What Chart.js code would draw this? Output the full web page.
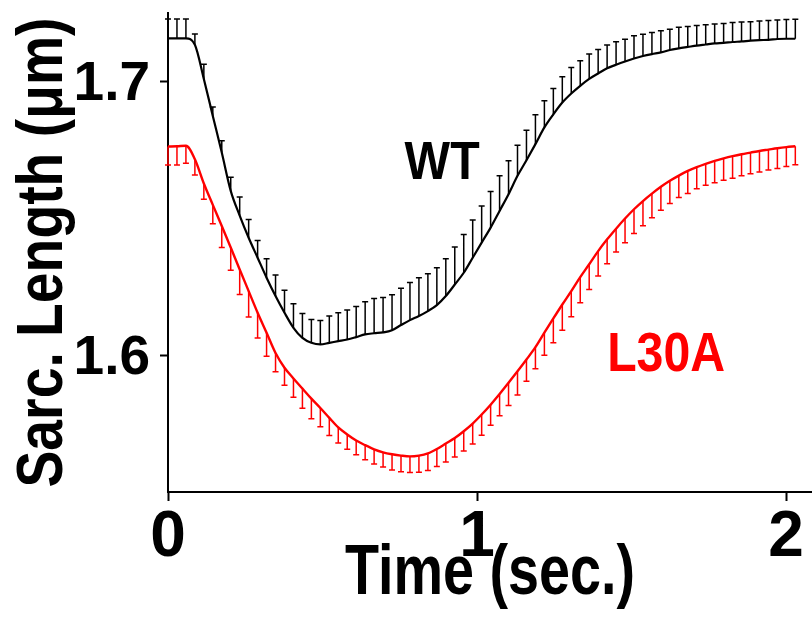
<!DOCTYPE html>
<html>
<head>
<meta charset="utf-8">
<script src="https://cdn.jsdelivr.net/npm/chart.js@4.4.1/dist/chart.umd.min.js"></script>
<style>
    html, body { margin: 0; padding: 0; background: #fff; }
    #wrap { width: 812px; height: 617px; }
</style>
</head>
<body>
<div id="wrap"><canvas id="sarcChart" width="812" height="617"></canvas></div>
<script>
// sampling times (sec)
const timeSec = [
    0, 0.029, 0.058, 0.087, 0.116, 0.145, 0.174, 0.203, 0.232, 0.261,
    0.29, 0.319, 0.348, 0.377, 0.406, 0.435, 0.464, 0.493, 0.522, 0.551,
    0.58, 0.609, 0.638, 0.667, 0.696, 0.725, 0.754, 0.783, 0.812, 0.841,
    0.87, 0.899, 0.928, 0.957, 0.986, 1.015, 1.044, 1.073, 1.102, 1.131,
    1.16, 1.189, 1.218, 1.247, 1.276, 1.305, 1.334, 1.363, 1.392, 1.421,
    1.45, 1.479, 1.508, 1.537, 1.566, 1.595, 1.624, 1.653, 1.682, 1.711,
    1.74, 1.769, 1.798, 1.827, 1.856, 1.885, 1.914, 1.943, 1.972, 2.001,
    2.03
]

// WT mean and top of its error bar (um)
const wtMean = [
    1.7157, 1.7157, 1.7157, 1.7134, 1.7009, 1.6874, 1.6740, 1.6600, 1.6510, 1.6429,
    1.6356, 1.6283, 1.6216, 1.6155, 1.6100, 1.6063, 1.6045, 1.6039, 1.6045, 1.6051,
    1.6057, 1.6066, 1.6076, 1.6080, 1.6083, 1.6091, 1.6110, 1.6128, 1.6143, 1.6161,
    1.6183, 1.6216, 1.6258, 1.6301, 1.6356, 1.6411, 1.6466, 1.6527, 1.6588, 1.6655,
    1.6712, 1.6771, 1.6832, 1.6880, 1.6923, 1.6956, 1.6984, 1.7009, 1.7029, 1.7048,
    1.7061, 1.7073, 1.7084, 1.7093, 1.7100, 1.7106, 1.7115, 1.7121, 1.7126, 1.7131,
    1.7135, 1.7139, 1.7141, 1.7144, 1.7146, 1.7149, 1.7151, 1.7152, 1.7155, 1.7156,
    1.7156
]
const wtErrTop = [
    1.7228, 1.7228, 1.7228, 1.7173, 1.7063, 1.6907, 1.6783, 1.6650, 1.6578, 1.6496,
    1.6419, 1.6352, 1.6293, 1.6237, 1.6188, 1.6152, 1.6130, 1.6127, 1.6143, 1.6155,
    1.6165, 1.6178, 1.6195, 1.6207, 1.6211, 1.6221, 1.6244, 1.6265, 1.6283, 1.6297,
    1.6319, 1.6352, 1.6395, 1.6441, 1.6494, 1.6545, 1.6598, 1.6655, 1.6710, 1.6767,
    1.6822, 1.6878, 1.6929, 1.6974, 1.7017, 1.7051, 1.7076, 1.7100, 1.7117, 1.7133,
    1.7145, 1.7154, 1.7167, 1.7172, 1.7179, 1.7185, 1.7191, 1.7198, 1.7201, 1.7204,
    1.7207, 1.7210, 1.7212, 1.7215, 1.7217, 1.7218, 1.7221, 1.7223, 1.7224, 1.7226,
    1.7227
]

// L30A mean and bottom of its error bar (um)
const l30aMean = [
    1.6762, 1.6763, 1.6765, 1.6716, 1.6627, 1.6549, 1.6472, 1.6393, 1.6313, 1.6234,
    1.6155, 1.6082, 1.6008, 1.5954, 1.5915, 1.5878, 1.5841, 1.5807, 1.5771, 1.5736,
    1.5710, 1.5688, 1.5671, 1.5656, 1.5645, 1.5638, 1.5633, 1.5630, 1.5633, 1.5641,
    1.5657, 1.5677, 1.5697, 1.5722, 1.5750, 1.5783, 1.5819, 1.5858, 1.5899, 1.5941,
    1.5984, 1.6029, 1.6082, 1.6134, 1.6185, 1.6234, 1.6285, 1.6332, 1.6380, 1.6423,
    1.6462, 1.6499, 1.6533, 1.6563, 1.6590, 1.6615, 1.6637, 1.6656, 1.6673, 1.6687,
    1.6699, 1.6710, 1.6719, 1.6727, 1.6734, 1.6740, 1.6746, 1.6751, 1.6756, 1.6760,
    1.6763
]
const l30aErrBottom = [
    1.6695, 1.6695, 1.6701, 1.6658, 1.6570, 1.6480, 1.6393, 1.6310, 1.6222, 1.6139,
    1.6063, 1.5996, 1.5939, 1.5890, 1.5846, 1.5806, 1.5768, 1.5738, 1.5706, 1.5679,
    1.5656, 1.5636, 1.5618, 1.5602, 1.5591, 1.5580, 1.5574, 1.5571, 1.5572, 1.5579,
    1.5593, 1.5610, 1.5628, 1.5650, 1.5675, 1.5707, 1.5744, 1.5779, 1.5816, 1.5854,
    1.5905, 1.5950, 1.6000, 1.6045, 1.6091, 1.6140, 1.6191, 1.6240, 1.6289, 1.6334,
    1.6377, 1.6411, 1.6444, 1.6473, 1.6502, 1.6529, 1.6554, 1.6576, 1.6591, 1.6608,
    1.6621, 1.6630, 1.6639, 1.6646, 1.6655, 1.6663, 1.6669, 1.6676, 1.6682, 1.6689,
    1.6696
]

const xTickValues = [0, 1, 2]
const yTickValues = [1.6, 1.7]

const FONT = "'Liberation Sans', Arial, Helvetica, sans-serif"

/* ==============================
           ERROR BARS (one-sided)
        ============================== */
const errorBarPlugin = {
    id: 'errorBars',
    afterDatasetsDraw(chart, args, opts) {
        const { ctx } = chart
        const x = chart.scales.x
        const y = chart.scales.y
        opts.sets.forEach((set) => {
            ctx.save()
            ctx.strokeStyle = set.color
            ctx.lineWidth = 1.5
            ctx.beginPath()
            set.mean.forEach((m, i) => {
                const px = x.getPixelForValue(timeSec[i])
                const y0 = y.getPixelForValue(m)
                const y1 = y.getPixelForValue(set.end[i])
                ctx.moveTo(px, y0)
                ctx.lineTo(px, y1)
                ctx.moveTo(px - 3, y1)
                ctx.lineTo(px + 3, y1)
            })
            ctx.stroke()
            ctx.restore()
        })
    }
}

/* ==============================
           TEXT (tick labels, titles, series names)
           narrow faces are not installed, so titles are
           squeezed with fillText's maxWidth
        ============================== */
const textPlugin = {
    id: 'chartText',
    afterDraw(chart, args, opts) {
        const { ctx, chartArea } = chart
        const x = chart.scales.x
        const y = chart.scales.y
        ctx.save()
        ctx.fillStyle = '#000000'
        ctx.textBaseline = 'alphabetic'

        // x tick labels
        ctx.font = `bold 64px ${FONT}`
        ctx.textAlign = 'center'
        xTickValues.forEach((v) => {
            ctx.fillText(String(v), x.getPixelForValue(v), chartArea.bottom + 64)
        })

        // y tick labels
        ctx.font = `bold 55px ${FONT}`
        ctx.textAlign = 'right'
        yTickValues.forEach((v) => {
            ctx.fillText(v.toFixed(1), chartArea.left - 18, y.getPixelForValue(v) + 19)
        })

        // x title
        ctx.font = `bold 70px ${FONT}`
        ctx.textAlign = 'center'
        ctx.fillText('Time (sec.)', (chartArea.left + chartArea.right) / 2, 594, 290)

        // series names
        opts.items.forEach((it) => {
            ctx.font = `bold ${it.size}px ${FONT}`
            ctx.fillStyle = it.color
            ctx.fillText(it.text, x.getPixelForValue(it.at[0]), y.getPixelForValue(it.at[1]), it.width)
        })

        // y title (rotated)
        ctx.fillStyle = '#000000'
        ctx.translate(62, (chartArea.top + chartArea.bottom) / 2)
        ctx.rotate(-Math.PI / 2)
        ctx.font = `bold 64px ${FONT}`
        ctx.fillText('Sarc. Length (μm)', 0, 0, 470)
        ctx.restore()
    }
}

new Chart(document.getElementById('sarcChart'), {
    type: 'line',
    data: {
        datasets: [
            {
                label: 'WT',
                data: timeSec.map((t, i) => ({ x: t, y: wtMean[i] })),
                borderColor: '#000000',
                borderWidth: 2.2,
                pointRadius: 0,
                cubicInterpolationMode: 'monotone',
                fill: false
            },
            {
                label: 'L30A',
                data: timeSec.map((t, i) => ({ x: t, y: l30aMean[i] })),
                borderColor: '#ff0000',
                borderWidth: 2.4,
                pointRadius: 0,
                cubicInterpolationMode: 'monotone',
                fill: false
            }
        ]
    },
    options: {
        responsive: false,
        animation: false,
        layout: { padding: { top: 13, right: 0, left: 0, bottom: 0 } },
        plugins: {
            legend: { display: false },
            tooltip: { enabled: false },
            errorBars: {
                sets: [
                    { mean: wtMean, end: wtErrTop, color: '#000000' },
                    { mean: l30aMean, end: l30aErrBottom, color: '#ff0000' }
                ]
            },
            chartText: {
                items: [
                    { text: 'WT', at: [0.887, 1.6644], color: '#000000', size: 53, width: 75 },
                    { text: 'L30A', at: [1.612, 1.5941], color: '#ff0000', size: 56, width: 118 }
                ]
            }
        },
        scales: {
            x: {
                type: 'linear',
                min: 0,
                max: 2.084,
                afterFit: (scale) => { scale.height = 125 },
                afterBuildTicks: (scale) => {
                    scale.ticks = xTickValues.map((v) => ({ value: v }))
                },
                border: { color: '#000000', width: 2 },
                grid: {
                    drawOnChartArea: false,
                    drawTicks: true,
                    tickLength: 9,
                    tickColor: '#000000',
                    tickWidth: 2
                },
                ticks: { display: false },
                title: { display: false }
            },
            y: {
                type: 'linear',
                min: 1.55,
                max: 1.725,
                afterFit: (scale) => { scale.width = 168 },
                afterBuildTicks: (scale) => {
                    scale.ticks = yTickValues.map((v) => ({ value: v }))
                },
                border: { color: '#000000', width: 2 },
                grid: {
                    drawOnChartArea: false,
                    drawTicks: true,
                    tickLength: 8,
                    tickColor: '#000000',
                    tickWidth: 2
                },
                ticks: { display: false },
                title: { display: false }
            }
        }
    },
    plugins: [errorBarPlugin, textPlugin]
})
</script>
</body>
</html>
